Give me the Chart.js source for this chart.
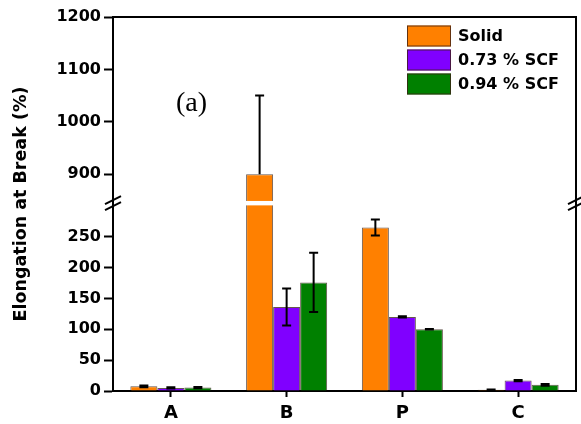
<!DOCTYPE html>
<html>
<head>
<meta charset="utf-8">
<script src="https://cdn.jsdelivr.net/npm/chart.js@4"></script>
<style>
  html, body { margin: 0; padding: 0; background: #fff; }
  #wrap { width: 581px; height: 424px; }
</style>
</head>
<body>
<div id="wrap"><canvas id="c" width="581" height="424"></canvas></div>
<script>
// values
const categories = ['A', 'B', 'P', 'C'];
const seriesNames = ['Solid', '0.73 % SCF', '0.94 % SCF'];
const solid = [7.5, 900, 265, 2];
const scf73 = [5, 136, 120, 17];
const scf94 = [5.5, 176, 100, 10];
const errSolid = [1.5, 150, 13, 0.5];
const err73 = [1, 30, 1, 1];
const err94 = [1, 48, 0.5, 1.5];
const yTicks = [0, 50, 100, 150, 200, 250, 900, 1000, 1100, 1200];
const colors = ['#FF8000', '#8000FF', '#008000'];

// axis break: 0-300 below, 850-1200 above
const LOW_MAX = 300, HIGH_MIN = 850, HIGH_MAX = 1200;
const LOW_FRAC = 0.495, GAP_FRAC = 0.0145;

class BrokenScale extends Chart.LinearScale {
    static id = 'broken';
    static defaults = Chart.LinearScale.defaults;

    buildTicks() {
        return yTicks.map(v => ({ value: v }));
    }
    toDecimal(v) {
        if (v <= LOW_MAX) return v / LOW_MAX * LOW_FRAC;
        if (v >= HIGH_MIN) return LOW_FRAC + GAP_FRAC + (v - HIGH_MIN) / (HIGH_MAX - HIGH_MIN) * (1 - LOW_FRAC - GAP_FRAC);
        return LOW_FRAC + (v - LOW_MAX) / (HIGH_MIN - LOW_MAX) * GAP_FRAC;
    }
    getPixelForValue(v) {
        if (v === null || v === undefined) return NaN;
        return this.getPixelForDecimal(this.toDecimal(v));
    }
    getValueForPixel(p) {
        const d = this.getDecimalForPixel(p);
        if (d <= LOW_FRAC) return d / LOW_FRAC * LOW_MAX;
        if (d >= LOW_FRAC + GAP_FRAC) return HIGH_MIN + (d - LOW_FRAC - GAP_FRAC) / (1 - LOW_FRAC - GAP_FRAC) * (HIGH_MAX - HIGH_MIN);
        return LOW_MAX + (d - LOW_FRAC) / GAP_FRAC * (HIGH_MIN - LOW_MAX);
    }
}
Chart.register(BrokenScale);

const errors = [errSolid, err73, err94];

// which part of the broken axis a value falls in
const panelOf = v => v <= LOW_MAX ? 0 : (v >= HIGH_MIN ? 2 : 1);

function drawBreak(ctx, x, yc) {
    ctx.save();
    ctx.strokeStyle = '#000';
    ctx.lineWidth = 2;
    [-3, 3].forEach(off => {
        ctx.beginPath();
        ctx.moveTo(x - 8, yc + off + 4);
        ctx.lineTo(x + 8, yc + off - 4);
        ctx.stroke();
    });
    ctx.restore();
}

const decorations = {
    id: 'decorations',
    afterDatasetsDraw(chart) {
        const ctx = chart.ctx;
        const area = chart.chartArea;
        const y = chart.scales.y;
        const yLow = y.getPixelForValue(LOW_MAX);
        const yHigh = y.getPixelForValue(HIGH_MIN);

        // white strip where the axis is broken
        ctx.save();
        ctx.fillStyle = '#fff';
        ctx.fillRect(area.left + 2, yHigh + 0.5, area.right - area.left - 4, yLow - yHigh - 1);
        ctx.restore();

        // error bars
        ctx.save();
        ctx.strokeStyle = '#000';
        ctx.lineWidth = 2;
        chart.data.datasets.forEach((ds, di) => {
            const meta = chart.getDatasetMeta(di);
            meta.data.forEach((bar, i) => {
                const v = ds.data[i];
                const e = errors[di][i];
                const top = y.getPixelForValue(v + e);
                // lower whisker only if it stays in the same panel
                const lowVal = v - e;
                const sameSide = panelOf(v) === panelOf(lowVal);
                const bot = sameSide ? y.getPixelForValue(lowVal) : y.getPixelForValue(v);
                const cap = 4.5;
                ctx.beginPath();
                ctx.moveTo(bar.x, top); ctx.lineTo(bar.x, bot);
                ctx.moveTo(bar.x - cap, top); ctx.lineTo(bar.x + cap, top);
                if (sameSide) { ctx.moveTo(bar.x - cap, bot); ctx.lineTo(bar.x + cap, bot); }
                ctx.stroke();
            });
        });
        ctx.restore();
    },
    afterDraw(chart) {
        const ctx = chart.ctx;
        const area = chart.chartArea;
        const y = chart.scales.y;
        const yc = (y.getPixelForValue(LOW_MAX) + y.getPixelForValue(HIGH_MIN)) / 2;

        // frame top and right
        ctx.save();
        ctx.strokeStyle = '#000';
        ctx.lineWidth = 2;
        ctx.beginPath();
        ctx.moveTo(area.left - 1, area.top);
        ctx.lineTo(area.right, area.top);
        ctx.lineTo(area.right, area.bottom);
        ctx.stroke();
        ctx.restore();

        drawBreak(ctx, area.left, yc);
        drawBreak(ctx, area.right, yc);

        // legend
        ctx.save();
        ctx.font = 'bold 16px "DejaVu Sans"';
        ctx.textBaseline = 'middle';
        chart.data.datasets.forEach((ds, i) => {
            const by = 25.5 + i * 24;
            ctx.fillStyle = ds.backgroundColor;
            ctx.fillRect(407, by, 44, 21);
            ctx.strokeStyle = 'rgba(60,30,20,0.8)';
            ctx.lineWidth = 1;
            ctx.strokeRect(407.5, by + 0.5, 43, 20);
            ctx.fillStyle = '#000';
            ctx.fillText(ds.label, 458, by + 11);
        });

        // panel tag
        ctx.font = '28px "Liberation Serif"';
        ctx.fillText('(a)', 176, 104);
        ctx.restore();
    }
};

new Chart(document.getElementById('c').getContext('2d'), {
    type: 'bar',
    data: {
        labels: categories,
        datasets: [solid, scf73, scf94].map((d, i) => ({
            label: seriesNames[i],
            data: d,
            backgroundColor: colors[i],
            borderColor: 'rgba(50,30,20,0.75)',
            borderWidth: 1,
            categoryPercentage: 0.7,
            barPercentage: 1.0
        }))
    },
    options: {
        responsive: false,
        animation: false,
        layout: { padding: { top: 17, right: 5, bottom: 0, left: 0 } },
        plugins: {
            legend: { display: false },
            tooltip: { enabled: false }
        },
        scales: {
            x: {
                grid: { display: true, drawOnChartArea: false, offset: false, tickLength: 6, tickWidth: 2, tickColor: '#000' },
                border: { display: true, color: '#000', width: 2 },
                ticks: { color: '#000', font: { family: 'DejaVu Sans', weight: 'bold', size: 18 }, padding: 6 },
                afterFit: s => { s.height = 33; }
            },
            y: {
                type: 'broken',
                min: 0,
                max: HIGH_MAX,
                grid: { display: true, drawOnChartArea: false, tickLength: 9, tickWidth: 2, tickColor: '#000' },
                border: { display: true, color: '#000', width: 2 },
                ticks: {
                    color: '#000', autoSkip: false, padding: 3,
                    font: { family: 'DejaVu Sans', weight: 'bold', size: 16 },
                    callback: v => String(v)
                },
                title: {
                    display: true,
                    text: 'Elongation at Break (%)',
                    color: '#000',
                    font: { family: 'DejaVu Sans', weight: 'bold', size: 17.5 },
                    padding: { top: 11, bottom: 0 }
                },
                afterFit: s => { s.width = 113; }
            }
        }
    },
    plugins: [decorations]
});
</script>
</body>
</html>
